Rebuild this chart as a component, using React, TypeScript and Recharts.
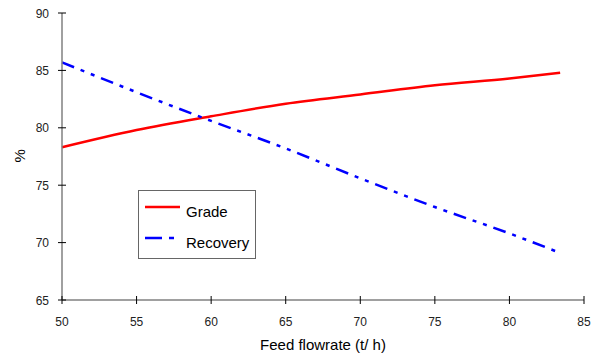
import * as React from "react";
import { LineChart, Line, XAxis, YAxis } from "recharts";

// Values
const flowrate = [50, 55, 60, 65, 70, 75, 80, 83.4];
const grade = [78.3, 79.8, 81.0, 82.1, 82.9, 83.7, 84.3, 84.8];
const recovery = [85.7, 83.1, 80.6, 78.2, 75.6, 73.1, 70.8, 69.1];

const xTicks = [50, 55, 60, 65, 70, 75, 80, 85];
const yTicks = [65, 70, 75, 80, 85, 90];

const data = flowrate.map((f, i) => ({ f, grade: grade[i], recovery: recovery[i] }));

const FONT = "'Liberation Sans', Arial, sans-serif";
const RECOVERY_DASH = "13 7 4 7 4 7";

// ticks that cross the axis line, like the original spreadsheet chart
const XTick = (props: any) => {
  const { x, y, payload } = props;
  return (
    <g>
      <line x1={x} x2={x} y1={y - 4} y2={y + 4} stroke="#000" strokeWidth={1} />
      <text x={x} y={y + 26} textAnchor="middle" fontSize={12} fill="#222" fontFamily={FONT}>
        {payload.value}
      </text>
    </g>
  );
};

const YTick = (props: any) => {
  const { x, y, payload } = props;
  return (
    <g>
      <line x1={x - 4} x2={x + 4} y1={y} y2={y} stroke="#000" strokeWidth={1} />
      <text x={x - 13} y={y + 4.5} textAnchor="end" fontSize={12} fill="#222" fontFamily={FONT}>
        {payload.value}
      </text>
    </g>
  );
};

// legend box drawn on top of the plot, where the original has it
const LegendBox = () => (
  <svg
    width={118}
    height={69}
    style={{ position: "absolute", left: 138, top: 190 }}
  >
    <rect x={0.5} y={0.5} width={117} height={68} fill="#fff" stroke="#666" strokeWidth={1} />
    <line x1={7} x2={42} y1={17} y2={17} stroke="#ff0000" strokeWidth={2.5} />
    <line x1={7} x2={42} y1={48} y2={48} stroke="#0000ff" strokeWidth={2.5} strokeDasharray="17 7 5 20" />
    <text x={48} y={27} fontSize={15} fontFamily={FONT} fill="#000">Grade</text>
    <text x={48} y={58} fontSize={15} fontFamily={FONT} fill="#000">Recovery</text>
  </svg>
);

export default function App() {
  return (
    <div style={{ position: "absolute", left: 0, top: 0, width: 600, height: 356, background: "#fff" }}>
      <LineChart width={600} height={356} data={data} margin={{ top: 13, right: 16, bottom: 0, left: 0 }}>
        <XAxis
          dataKey="f"
          type="number"
          domain={[50, 85]}
          ticks={xTicks}
          interval={0}
          tickLine={false}
          tickSize={0}
          tickMargin={0}
          tick={<XTick />}
          axisLine={{ stroke: "#808080", strokeWidth: 1.5 }}
          height={56}
          label={{
            value: "Feed flowrate (t/ h)",
            position: "insideBottom",
            offset: 6,
            fontSize: 15,
            fill: "#000",
            fontFamily: FONT,
          }}
        />
        <YAxis
          type="number"
          domain={[65, 90]}
          ticks={yTicks}
          interval={0}
          width={62}
          tickLine={false}
          tickSize={0}
          tickMargin={0}
          tick={<YTick />}
          axisLine={{ stroke: "#808080", strokeWidth: 1.5 }}
          label={{
            value: "%",
            angle: -90,
            position: "insideLeft",
            offset: 20,
            dy: 6,
            fontSize: 15,
            fill: "#000",
            fontFamily: FONT,
          }}
        />
        <Line
          name="Grade"
          type="monotone"
          dataKey="grade"
          stroke="#ff0000"
          strokeWidth={2.5}
          dot={false}
          isAnimationActive={false}
        />
        <Line
          name="Recovery"
          type="monotone"
          dataKey="recovery"
          stroke="#0000ff"
          strokeWidth={2.5}
          strokeDasharray={RECOVERY_DASH}
          dot={false}
          isAnimationActive={false}
        />
      </LineChart>
      <LegendBox />
    </div>
  );
}
